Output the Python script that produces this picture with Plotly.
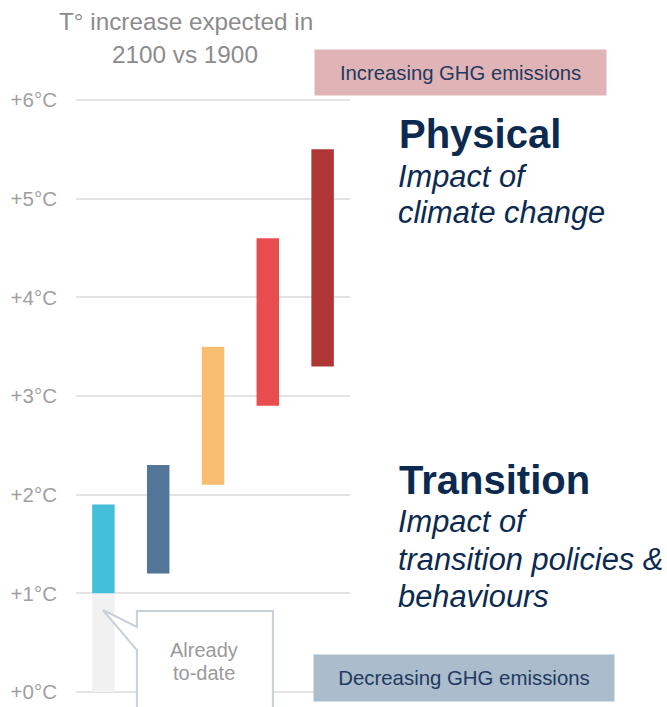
import plotly.graph_objects as go

# ---- data ----
scenarios = ["Scenario 1", "Scenario 2", "Scenario 3", "Scenario 4", "Scenario 5"]
low_temp = [1.0, 1.2, 2.1, 2.9, 3.3]
high_temp = [1.9, 2.3, 3.5, 4.6, 5.5]
bar_colors = ["#43bfda", "#527598", "#f9bd72", "#e84c4c", "#b03535"]
to_date_low = [0.0]
to_date_high = [1.0]
tick_values = [0, 1, 2, 3, 4, 5, 6]
tick_labels = ["+0°C", "+1°C", "+2°C", "+3°C", "+4°C", "+5°C", "+6°C"]

W, H = 667, 707
ML, MR = 76, 317
PW = W - ML - MR
FONT = "Liberation Sans, Arial, sans-serif"


def px_x(px):
    return (px - ML) / PW


def px_y(py):
    return 1 - py / H


# data-coordinate helpers for the callout decoration
Y0_PX, UNIT_PX = 692, 98.67
X0_PX, CAT_PX = 103.5, 54.8


def dx(px):
    return (px - X0_PX) / CAT_PX


def dy(py):
    return (Y0_PX - py) / UNIT_PX


fig = go.Figure()

fig.add_trace(go.Bar(
    x=[scenarios[0]],
    y=[h - l for h, l in zip(to_date_high, to_date_low)],
    base=to_date_low,
    marker=dict(color="#f1f1f1", line=dict(width=0)),
    width=0.41,
    hoverinfo="skip",
    showlegend=False,
))

fig.add_trace(go.Bar(
    x=scenarios,
    y=[h - l for h, l in zip(high_temp, low_temp)],
    base=low_temp,
    marker=dict(color=bar_colors, line=dict(width=0)),
    width=0.41,
    showlegend=False,
))

# callout bubble
path = (
    f"M {dx(103)},{dy(610)} L {dx(137)},{dy(627)} L {dx(137)},{dy(611)} "
    f"L {dx(273)},{dy(611)} L {dx(273)},{dy(760)} L {dx(137)},{dy(760)} "
    f"L {dx(137)},{dy(650)} Z"
)
fig.add_shape(type="path", path=path, xref="x", yref="y",
              fillcolor="white", line=dict(color="#c8d0d8", width=2), layer="above")

annotations = []


def ann(text, px, py, size, color, xanchor="left", bold=False, italic=False, **kw):
    t = text
    if bold:
        t = f"<b>{t}</b>"
    if italic:
        t = f"<i>{t}</i>"
    d = dict(text=t, x=px_x(px), y=px_y(py), xref="paper", yref="paper",
             xanchor=xanchor, yanchor="middle", showarrow=False, borderpad=0,
             font=dict(family=FONT, size=size, color=color))
    d.update(kw)
    annotations.append(d)


# title
ann("T° increase expected in", 186, 21.7, 24.3, "#8c8c8c", xanchor="center")
ann("2100 vs 1900", 185, 54.7, 24.3, "#8c8c8c", xanchor="center")

# emission boxes
annotations.append(dict(text="Increasing GHG emissions", x=px_x(314), y=px_y(49),
                        xref="paper", yref="paper", xanchor="left", yanchor="top",
                        showarrow=False, width=291, height=45, bgcolor="#e0b4b6",
                        borderpad=0, align="center", valign="middle",
                        font=dict(family=FONT, size=20.3, color="#1f3a5f")))
annotations.append(dict(text="Decreasing GHG emissions", x=px_x(313), y=px_y(654),
                        xref="paper", yref="paper", xanchor="left", yanchor="top",
                        showarrow=False, width=300, height=46, bgcolor="#abbccc",
                        borderpad=0, align="center", valign="middle",
                        font=dict(family=FONT, size=20.4, color="#1f3a5f")))

NAVY = "#0c2a50"
ann("Physical", 398, 133.5, 40, NAVY, bold=True)
ann("Impact of", 397, 176.6, 30.8, NAVY, italic=True)
ann("climate change", 397, 212.6, 30.8, NAVY, italic=True)
ann("Transition", 398, 479.5, 40, NAVY, bold=True)
ann("Impact of", 397, 521.6, 30.8, NAVY, italic=True)
ann("transition policies &amp;", 397, 559, 30.8, NAVY, italic=True)
ann("behaviours", 397, 596.6, 30.8, NAVY, italic=True)

# callout text
ann("Already", 204, 650, 20, "#9a9a9a", xanchor="center")
ann("to-date", 204, 673, 20, "#9a9a9a", xanchor="center")

fig.update_layout(
    width=W, height=H,
    margin=dict(l=ML, r=MR, t=0, b=0, pad=0),
    paper_bgcolor="white", plot_bgcolor="white",
    barmode="overlay",
    annotations=annotations,
    font=dict(family=FONT),
    xaxis=dict(type="category", range=[-0.5, 4.5], showticklabels=False,
               showgrid=False, zeroline=False, showline=False, fixedrange=True),
    yaxis=dict(range=[-15 / UNIT_PX, 6 + 100 / UNIT_PX], tickvals=tick_values,
               ticktext=tick_labels, showgrid=True, gridcolor="#e3e3e3",
               gridwidth=2, zeroline=False, showline=False, ticks="",
               ticklabelstandoff=18,
               tickfont=dict(family=FONT, size=20.5, color="#a0a0a0")),
)

fig.write_html("out.html",
               config={"displayModeBar": False},
               post_script="document.body.style.margin='0px';"
                           "document.body.style.overflow='hidden';")
